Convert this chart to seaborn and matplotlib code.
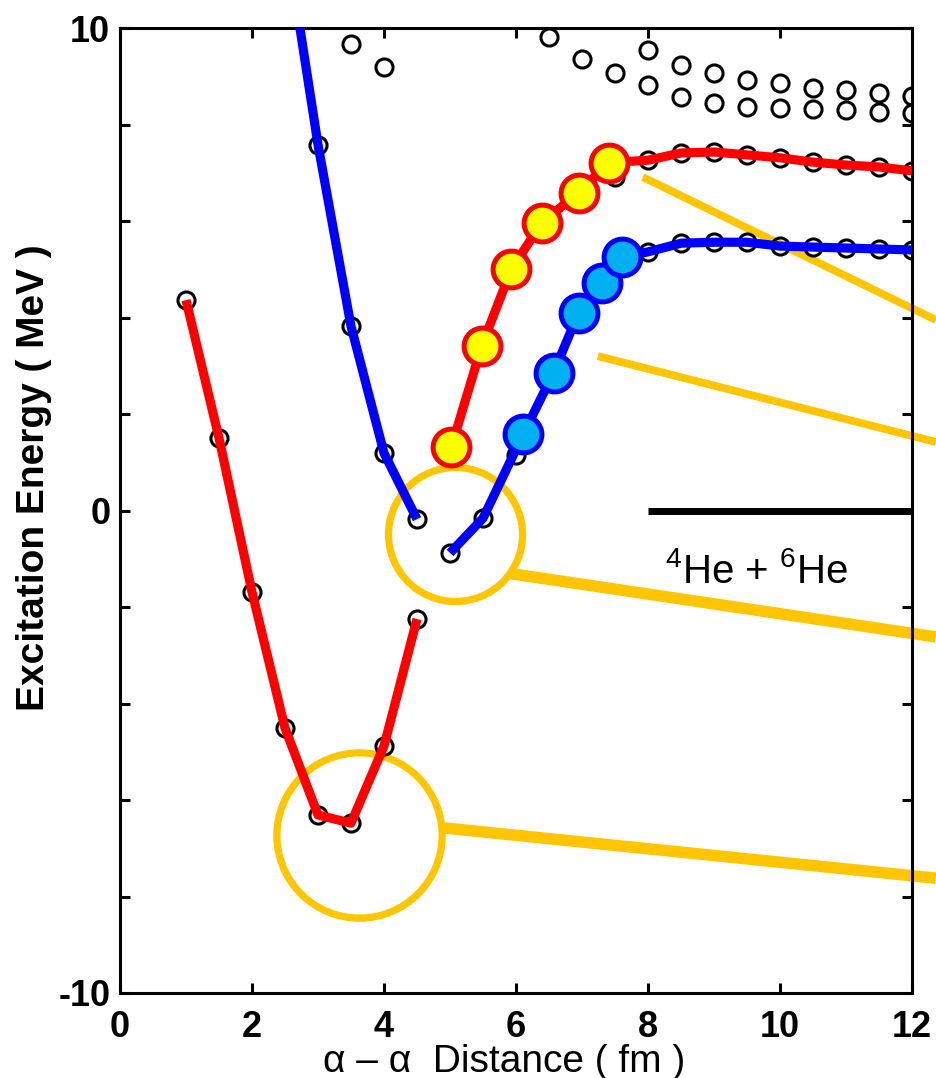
import matplotlib
matplotlib.use("Agg")
import matplotlib.pyplot as plt
import numpy as np
import pandas as pd
import seaborn as sns

# ---- data: alpha-alpha distance (fm) vs excitation energy (MeV) ----
# lowest band (open circles joined by the red curve)
low_x = [1.0, 1.5, 2.0, 2.5, 3.0, 3.5, 4.0, 4.5]
low_e = [4.36, 1.50, -1.69, -4.51, -6.31, -6.48, -4.88, -2.25]

# second band, inner branch (blue curve, starts above the frame)
inner_x = [2.5, 3.0, 3.5, 4.0, 4.5]
inner_e = [12.0, 7.58, 3.82, 1.19, -0.18]

# second band, outer branch: fixed-distance points
outer_x = [5.0, 5.5, 6.0, 8.0, 8.5, 9.0, 9.5, 10.0, 10.5, 11.0, 11.5, 12.0]
outer_e = [-0.88, -0.16, 1.15, 5.36, 5.54, 5.56, 5.56, 5.48, 5.46, 5.44, 5.42, 5.40]

# second band, outer branch: averaged-distance points (cyan)
cyan_x = [6.11, 6.57, 6.95, 7.30, 7.60]
cyan_e = [1.58, 2.86, 4.10, 4.72, 5.26]

# third band: fixed-distance points
third_x = [7.5, 8.0, 8.5, 9.0, 9.5, 10.0, 10.5, 11.0, 11.5, 12.0]
third_e = [6.91, 7.26, 7.41, 7.43, 7.37, 7.31, 7.22, 7.16, 7.12, 7.04]

# third band: averaged-distance points (yellow)
yellow_x = [5.02, 5.48, 5.93, 6.39, 6.95, 7.41]
yellow_e = [1.31, 3.41, 5.00, 5.96, 6.59, 7.21]

# higher states (open circles only)
high_x = [3.5, 4.0, 6.5, 7.0, 7.5, 8.0, 8.0, 8.5, 8.5, 9.0, 9.0, 9.5, 9.5,
          10.0, 10.0, 10.5, 10.5, 11.0, 11.0, 11.5, 11.5, 12.0, 12.0]
high_e = [9.67, 9.19, 9.81, 9.36, 9.07, 9.54, 8.82, 9.23, 8.57, 9.07, 8.45,
          8.92, 8.36, 8.86, 8.34, 8.76, 8.32, 8.71, 8.30, 8.65, 8.26, 8.59, 8.24]

# 4He + 6He threshold
thr_x = [8.0, 12.0]
thr_e = [0.0, 0.0]

# highlighted minima
ring_x = [5.08, 3.62]
ring_e = [-0.49, -6.73]
ring_size = [96.5, 119.0]

# leader lines running off the right edge
lead_a_x, lead_a_e = [7.92, 12.36], [6.91, 3.95]
lead_b_x, lead_b_e = [7.24, 12.36], [3.20, 1.42]
lead_c_x, lead_c_e = [5.88, 12.36], [-1.30, -2.62]
lead_d_x, lead_d_e = [4.92, 12.36], [-6.58, -7.62]

x_ticks = [0, 2, 4, 6, 8, 10, 12]
y_ticks = [-10, -8, -6, -4, -2, 0, 2, 4, 6, 8, 10]
y_tick_labels = ["-10", "", "", "", "", "0", "", "", "", "", "10"]

RED = "#FF0000"
BLUE = "#0000FF"
YELLOW = "#FFFF00"
CYAN = "#00B0F0"
GOLD = "#FFC600"

sns.set_theme(style="ticks")
plt.rcParams["font.family"] = ["Liberation Sans", "DejaVu Sans"]
plt.rcParams["text.color"] = "black"
plt.rcParams["axes.labelcolor"] = "black"
plt.rcParams["mathtext.fontset"] = "custom"
plt.rcParams["mathtext.rm"] = "Liberation Sans"
plt.rcParams["mathtext.it"] = "Liberation Sans:italic"
plt.rcParams["mathtext.bf"] = "Liberation Sans:bold"

fig = plt.figure(figsize=(9.36, 10.78), dpi=100)
ax = fig.add_axes([120 / 936, 1 - 993 / 1078, 792 / 936, 965 / 1078])

LW = 6.6


def curve(xs, es, color, z):
    sns.lineplot(x=xs, y=es, ax=ax, color=color, lw=LW, sort=False,
                 estimator=None, zorder=z, solid_joinstyle="round",
                 solid_capstyle="butt")


def dots(xs, es, z, **kw):
    sns.lineplot(x=xs, y=es, ax=ax, sort=False, estimator=None,
                 linestyle="none", marker="o", zorder=z, **kw)


# leader lines and rings
for lx, le, w in [(lead_a_x, lead_a_e, 5.6), (lead_b_x, lead_b_e, 5.6),
                  (lead_c_x, lead_c_e, 8.3), (lead_d_x, lead_d_e, 8.3)]:
    sns.lineplot(x=lx, y=le, ax=ax, color=GOLD, lw=w, sort=False,
                 estimator=None, clip_on=False, zorder=1.5,
                 solid_capstyle="butt")
for rx, re_, rs in zip(ring_x, ring_e, ring_size):
    dots([rx], [re_], 1.6, color=GOLD, ms=rs, mfc="none", mec=GOLD, mew=5.2)

# open circles
open_kw = dict(color="black", ms=12.3, mfc="none", mec="black", mew=2.2)
dots(low_x, low_e, 2, **open_kw)
dots(inner_x, inner_e, 2, **open_kw)
dots(outer_x, outer_e, 2, **open_kw)
dots(third_x, third_e, 2, **open_kw)
dots(high_x, high_e, 2, **open_kw)

# band curves
curve(low_x, low_e, RED, 3)
curve(inner_x, inner_e, BLUE, 3)
curve(outer_x[:2] + cyan_x + outer_x[3:], outer_e[:2] + cyan_e + outer_e[3:], BLUE, 3)
curve(yellow_x + third_x[1:], yellow_e + third_e[1:], RED, 3)

# averaged-distance points
dots(cyan_x, cyan_e, 4, color=BLUE, ms=26.5, mfc=CYAN, mec=BLUE, mew=3.6)
dots(yellow_x, yellow_e, 4, color=RED, ms=26.5, mfc=YELLOW, mec=RED, mew=3.6)

# threshold
sns.lineplot(x=thr_x, y=thr_e, ax=ax, color="black", lw=5.0, sort=False,
             estimator=None, zorder=3, solid_capstyle="butt")
ax.text(9.65, -1.50, r"$^{4}$He + $^{6}$He", fontsize=29, ha="center",
        va="baseline", color="black")

ax.set_xlim(0, 12)
ax.set_ylim(-10, 10)
ax.set_xticks(x_ticks)
ax.set_xticklabels([str(v) for v in x_ticks])
ax.set_yticks(y_ticks)
ax.set_yticklabels(y_tick_labels)
ax.tick_params(direction="in", length=7, width=2.2, top=True, right=True,
               labelsize=26, colors="black", pad=7)
ax.tick_params(axis="x", pad=12)
for lbl in ax.get_xticklabels() + ax.get_yticklabels():
    lbl.set_fontweight("bold")
for sp in ax.spines.values():
    sp.set_linewidth(2.2)
    sp.set_color("black")
    sp.set_visible(True)

ax.set_xlabel("α – α  Distance ( fm )", fontsize=28, color="black")
ax.set_ylabel("Excitation Energy ( MeV )", fontsize=28, fontweight="bold",
              color="black")
ax.xaxis.set_label_coords(0.485, -0.053)
ax.yaxis.set_label_coords(-0.086, 0.534)

fig.savefig("out.png", dpi=100)
